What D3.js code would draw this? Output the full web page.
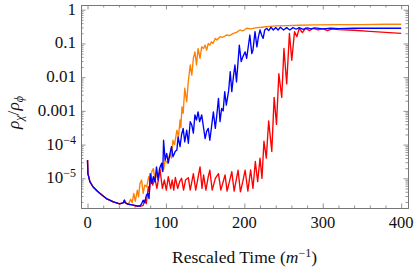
<!DOCTYPE html>
<html>
<head>
<meta charset="utf-8">
<script src="https://cdn.jsdelivr.net/npm/d3@7"></script>
<style>
  body { margin: 0; background: #fff; }
  svg { display: block; }
  .frame path.domain { stroke: #777; }
  .frame line { stroke: #777; }
</style>
</head>
<body>
<div id="chart"></div>
<script>
// values: [time, log10(rho_chi / rho_phi)]
const decay = [[0, -4.46], [0.5, -4.86], [1.5, -4.95], [3, -5.1], [7, -5.25], [12, -5.37], [16, -5.45],
  [24, -5.6], [33, -5.7], [41, -5.76], [46, -5.72], [47, -5.65], [48.5, -5.73], [52, -5.77]];

const orange = [[55, -5.62], [57, -5.72], [59, -5.45], [61, -5.68], [63.5, -5.35], [65, -5.55], [67, -5.15],
  [69, -5.05], [71, -5.45], [73, -5.2], [75.5, -5.25], [78, -4.95], [80, -5.1], [82, -4.8], [84, -4.71],
  [86, -5.05], [89, -4.85], [92.5, -4.85], [95, -4.6], [97, -4.75], [99, -4.46], [102, -4.55], [105, -4.26],
  [107, -4.4], [109, -3.87], [111, -4.0], [114, -3.57], [116, -3.77], [118, -3.27], [119, -3.5], [120.5, -2.88],
  [122, -3.07], [124, -2.33], [126.5, -2.73], [128.5, -2.14], [131, -1.64], [133, -1.94], [135, -1.44],
  [137, -1.25], [139, -1.64], [141, -1.15], [143.5, -1.44], [145.6, -1.1], [148, -1.15], [150, -1.05],
  [152, -1.2], [154, -1.0], [156, -1.05], [158, -0.95], [160, -1.0], [163, -0.85], [165, -0.9], [169, -0.8],
  [172, -0.82], [177.5, -0.75], [181, -0.77], [186, -0.7], [190, -0.67], [194.5, -0.6], [198, -0.63],
  [203, -0.55], [208, -0.57], [216, -0.53], [222, -0.52], [228.6, -0.5], [240, -0.48], [255, -0.47],
  [270, -0.46], [290, -0.45], [320, -0.44], [350, -0.44], [380, -0.43], [400, -0.43]];

const blue = [[55, -5.78], [60, -5.8], [64, -5.82], [67, -5.82], [69, -5.75], [71, -5.65], [73, -5.72],
  [75, -5.5], [77, -5.45], [78.5, -5.6], [80, -4.86], [82, -5.15], [84, -4.95], [86, -5.1], [88, -4.66],
  [90, -5.05], [92, -4.7], [94.5, -4.55], [96, -4.8], [97, -3.87], [99, -4.46], [101, -4.26], [103, -4.55],
  [105, -4.3], [107, -4.06], [109, -4.36], [112, -4.2], [114, -4.16], [115.5, -3.77], [118, -4.06],
  [120, -3.7], [122, -3.52], [124, -3.92], [126.5, -3.57], [128.6, -3.96], [131, -3.32], [133, -3.42],
  [135, -3.66], [137, -3.12], [139, -3.27], [141, -3.03], [143, -3.32], [145.6, -3.12], [148, -3.5],
  [150, -3.82], [152, -3.6], [154, -3.52], [156, -3.87], [158, -3.5], [160.5, -3.03], [163, -3.52],
  [165, -3.1], [167, -2.63], [169, -3.32], [171, -2.93], [173, -3.0], [175, -2.43], [177, -2.83],
  [180, -2.4], [182, -1.84], [184, -2.43], [186, -2.0], [188, -1.64], [190, -2.14], [193.6, -1.05],
  [196, -1.54], [198, -1.4], [201, -1.25], [203, -1.44], [207, -0.75], [209.5, -1.3], [211, -1.2],
  [213.6, -0.65], [216, -1.1], [218, -0.8], [220, -0.6], [222, -0.75], [224, -0.85], [226, -0.6],
  [228.6, -0.55], [231, -0.62], [234, -0.52], [237, -0.6], [240, -0.53], [243, -0.6], [246, -0.52],
  [250, -0.6], [254, -0.53], [258, -0.6], [262, -0.53], [266, -0.58], [270, -0.53], [275, -0.58],
  [280, -0.54], [285, -0.57], [290, -0.54], [300, -0.57], [310, -0.55], [320, -0.56], [340, -0.55],
  [370, -0.55], [400, -0.55]];

const red = [[56, -5.78], [62, -5.82], [67, -5.83], [71, -5.8], [73, -5.65], [75, -5.75], [77.6, -5.25],
  [79, -5.4], [80.6, -4.9], [83, -5.2], [86, -5.0], [88.5, -5.3], [92.5, -4.76], [95.5, -5.3], [98, -5.05],
  [100.5, -5.35], [103, -4.95], [106, -5.3], [108, -5.05], [110, -5.35], [112, -4.97], [115, -5.3],
  [117.5, -5.1], [120, -5.0], [122.5, -5.35], [125, -5.05], [128.6, -4.98], [131, -5.35], [135, -4.86],
  [138, -5.35], [140, -5.1], [143.5, -4.66], [146, -5.3], [148, -4.9], [151, -5.35], [154, -4.95],
  [156, -4.76], [159, -5.35], [163, -5.0], [167, -4.86], [170, -5.35], [175.4, -4.9], [178, -5.38],
  [181, -5.1], [184, -4.8], [187, -5.38], [192, -4.76], [195, -5.4], [198, -5.1], [201, -4.76],
  [204.5, -5.38], [208, -4.75], [211, -5.3], [214, -4.5], [217, -5.1], [220, -4.4], [222.5, -5.0],
  [225, -3.9], [228, -4.4], [231, -3.3], [235, -4.2], [238, -2.6], [241, -3.4], [244, -1.9], [247.7, -2.6],
  [250.5, -1.15], [254, -2.2], [257.5, -0.7], [260.5, -1.5], [264, -0.65], [267, -0.8], [270, -0.55],
  [274, -0.68], [278, -0.55], [283, -0.62], [288, -0.55], [294, -0.6], [300, -0.56], [306, -0.62],
  [312, -0.57], [320, -0.59], [340, -0.61], [360, -0.64], [380, -0.67], [400, -0.7]];

const xMajor = [0, 100, 200, 300, 400];
const yMajorExp = [-5, -4, -3, -2, -1, 0];
const yLabels = ["10|−5", "10|−4", "0.001", "0.01", "0.1", "1"];

const width = 415, height = 267;
const box = { left: 81, right: 408, top: 5, bottom: 208 };
const serif = "Liberation Serif";

const svg = d3.select("#chart").append("svg")
  .attr("width", width).attr("height", height)
  .attr("font-family", serif);

const x = d3.scaleLinear().domain([-8.3, 408.7]).range([box.left, box.right]);
const y = d3.scaleLog().domain([Math.pow(10, -5.88), Math.pow(10, 0.14)]).range([box.bottom, box.top]);

// ticks: majors and minors on all four sides, pointing inward
const xMinor = d3.range(0, 401, 20).filter(d => d % 100 !== 0);
const yMajor = yMajorExp.map(e => Math.pow(10, e));
const yMinor = [];
for (let e = -6; e <= 0; e++) for (let k = 2; k <= 9; k++) {
  const v = k * Math.pow(10, e);
  if (v > y.domain()[0] && v < y.domain()[1]) yMinor.push(v);
}

function frameAxis(axisFn, scale, values, size, tx, ty) {
  svg.append("g").attr("class", "frame")
    .attr("transform", `translate(${tx},${ty})`)
    .call(axisFn(scale).tickValues(values).tickSize(size).tickSizeOuter(0).tickFormat(""))
    .call(g => g.selectAll("line").attr("stroke-width", 0.8))
    .call(g => g.selectAll("text").remove());
}
frameAxis(d3.axisBottom, x, xMajor, -4.5, 0, box.bottom);
frameAxis(d3.axisBottom, x, xMinor, -2.5, 0, box.bottom);
frameAxis(d3.axisTop, x, xMajor, -4.5, 0, box.top);
frameAxis(d3.axisTop, x, xMinor, -2.5, 0, box.top);
frameAxis(d3.axisLeft, y, yMajor, -4.5, box.left, 0);
frameAxis(d3.axisLeft, y, yMinor, -2.5, box.left, 0);
frameAxis(d3.axisRight, y, yMajor, -4.5, box.right, 0);
frameAxis(d3.axisRight, y, yMinor, -2.5, box.right, 0);

// tick labels
svg.append("g").selectAll("text").data(xMajor).join("text")
  .attr("x", d => x(d)).attr("y", box.bottom + 20)
  .attr("text-anchor", "middle").attr("font-family", serif).attr("font-size", 16.5).attr("fill", "#111")
  .text(d => d);

const yl = svg.append("g").selectAll("text").data(yMajor).join("text")
  .attr("x", box.left - 5).attr("y", d => y(d) + 5)
  .attr("text-anchor", "end").attr("font-family", serif).attr("font-size", 17).attr("fill", "#111");
yl.each(function (d, i) {
  const parts = yLabels[i].split("|");
  const t = d3.select(this);
  t.append("tspan").text(parts[0]);
  if (parts[1]) t.append("tspan").attr("dy", -6).attr("font-size", 12).text(parts[1]);
});

// axis titles
const xt = svg.append("text")
  .attr("x", (box.left + box.right) / 2).attr("y", 263)
  .attr("text-anchor", "middle").attr("font-family", serif).attr("font-size", 17.5).attr("fill", "#111");
xt.append("tspan").text("Rescaled Time (");
xt.append("tspan").attr("font-style", "italic").text("m");
xt.append("tspan").attr("dy", -6).attr("font-size", 12).text("−1");
xt.append("tspan").attr("dy", 6).text(")");

const ytitle = svg.append("text")
  .attr("transform", `translate(19,${(box.top + box.bottom) / 2 + 6}) rotate(-90)`)
  .attr("text-anchor", "middle").attr("font-family", serif).attr("font-size", 17.5).attr("fill", "#111");
ytitle.append("tspan").attr("font-style", "italic").text("ρ");
ytitle.append("tspan").attr("dy", 4).attr("font-size", 12).attr("font-style", "italic").text("χ");
ytitle.append("tspan").attr("dy", -4).text("/");
ytitle.append("tspan").attr("font-style", "italic").text("ρ");
ytitle.append("tspan").attr("dy", 4).attr("font-size", 12).attr("font-style", "italic").text("ϕ");

// curves
const line = d3.line()
  .x(d => x(d[0]))
  .y(d => y(Math.pow(10, d[1])));

const series = [
  { data: decay.concat(orange), color: "#ff8000" },
  { data: decay.concat(red), color: "#ff0000" },
  { data: decay.concat(blue), color: "#0000ff" }
];

svg.append("g").selectAll("path").data(series).join("path")
  .attr("d", d => line(d.data))
  .attr("fill", "none")
  .attr("stroke", d => d.color)
  .attr("stroke-width", 1.35)
  .attr("stroke-linejoin", "round");
</script>
</body>
</html>
